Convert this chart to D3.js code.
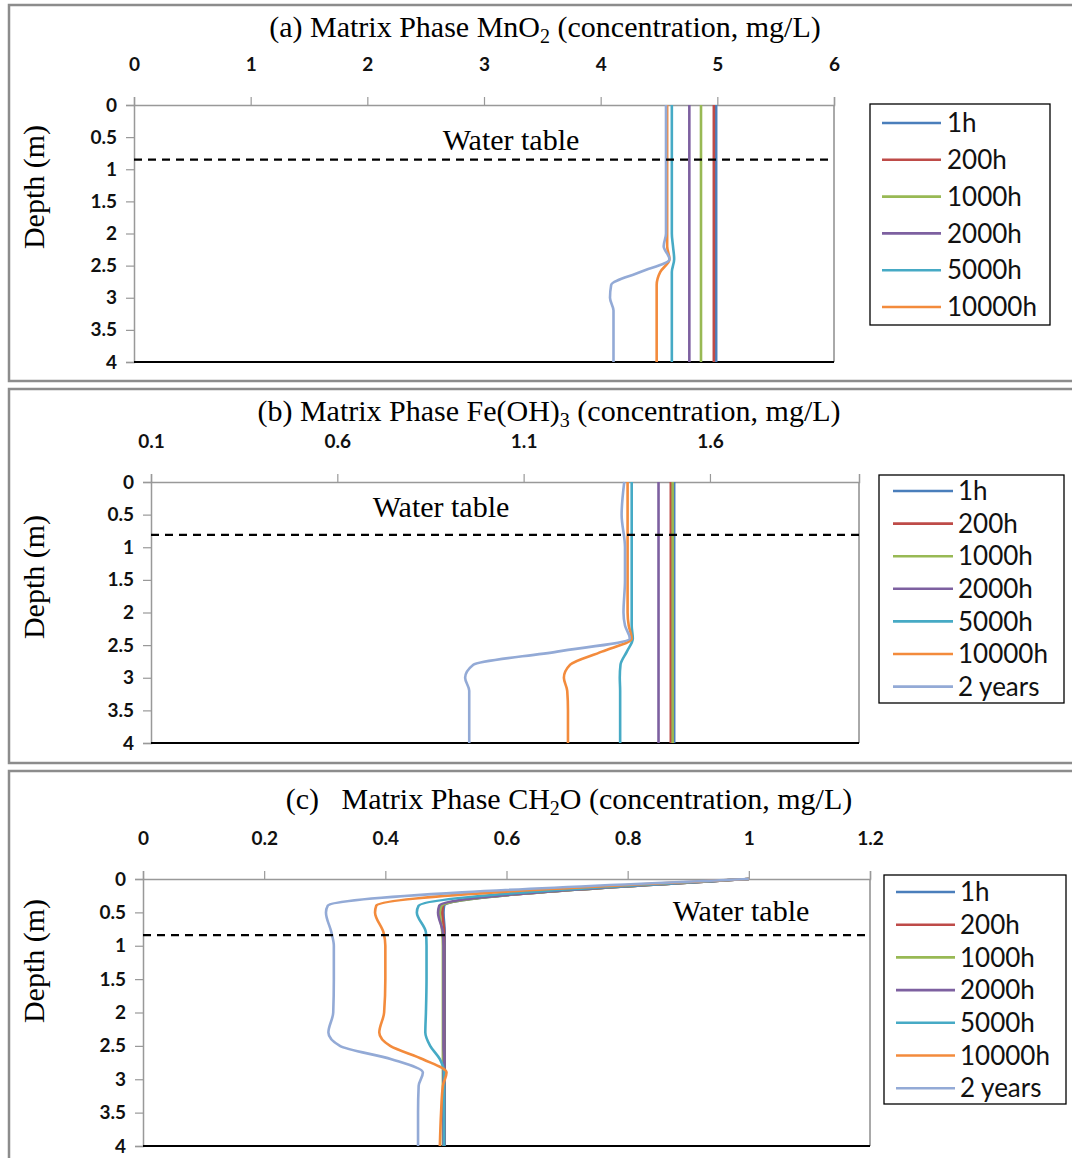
<!DOCTYPE html>
<html>
<head>
<meta charset="utf-8">
<script src="https://cdn.jsdelivr.net/npm/d3@7"></script>
<style>
body { margin: 0; background: #fff; }
text { white-space: pre; }
</style>
</head>
<body>
<svg width="1072" height="1158"></svg>
<script>
// series shared by all three panels
var seriesNames = ["1h", "200h", "1000h", "2000h", "5000h", "10000h", "2 years"];
var seriesColors = ["#4A7EBB", "#BE4B48", "#98B954", "#7D60A0", "#46AAC5", "#F38B3C", "#93AAD6"];

var depthTicks = [0, 0.5, 1, 1.5, 2, 2.5, 3, 3.5, 4];

// (a) MnO2
var depthA = [0, 0.5, 1, 1.5, 2, 2.2, 2.4, 2.6, 2.8, 3, 3.2, 3.5, 4];
var mnO2 = [
  [4.99, 4.99, 4.99, 4.99, 4.99, 4.99, 4.99, 4.99, 4.99, 4.99, 4.99, 4.99, 4.99],
  [4.97, 4.97, 4.97, 4.97, 4.97, 4.97, 4.97, 4.97, 4.97, 4.97, 4.97, 4.97, 4.97],
  [4.86, 4.86, 4.86, 4.86, 4.86, 4.86, 4.86, 4.86, 4.86, 4.86, 4.86, 4.86, 4.86],
  [4.76, 4.76, 4.76, 4.76, 4.76, 4.76, 4.76, 4.76, 4.76, 4.76, 4.76, 4.76, 4.76],
  [4.61, 4.61, 4.61, 4.61, 4.61, 4.62, 4.63, 4.61, 4.61, 4.61, 4.61, 4.61, 4.61],
  [4.57, 4.57, 4.57, 4.57, 4.57, 4.57, 4.59, 4.51, 4.48, 4.48, 4.48, 4.48, 4.48],
  [4.56, 4.56, 4.56, 4.56, 4.56, 4.54, 4.59, 4.34, 4.09, 4.08, 4.11, 4.11, 4.11]
];
var xTicksA = [0, 1, 2, 3, 4, 5, 6];

// (b) Fe(OH)3
var depthB = [0, 0.5, 1, 1.5, 2, 2.2, 2.4, 2.6, 2.8, 3, 3.2, 3.5, 4];
var feOH3 = [
  [1.504, 1.504, 1.504, 1.504, 1.504, 1.504, 1.504, 1.504, 1.504, 1.504, 1.504, 1.504, 1.504],
  [1.495, 1.495, 1.495, 1.495, 1.495, 1.495, 1.495, 1.495, 1.495, 1.495, 1.495, 1.495, 1.495],
  [1.500, 1.500, 1.500, 1.500, 1.500, 1.500, 1.500, 1.500, 1.500, 1.500, 1.500, 1.500, 1.500],
  [1.462, 1.462, 1.462, 1.462, 1.462, 1.462, 1.462, 1.462, 1.462, 1.462, 1.462, 1.462, 1.462],
  [1.390, 1.390, 1.390, 1.390, 1.390, 1.390, 1.393, 1.377, 1.360, 1.358, 1.359, 1.359, 1.359],
  [1.379, 1.379, 1.379, 1.379, 1.379, 1.382, 1.390, 1.310, 1.225, 1.208, 1.217, 1.219, 1.219],
  [1.370, 1.363, 1.372, 1.372, 1.368, 1.372, 1.385, 1.190, 0.965, 0.943, 0.954, 0.954, 0.954]
];
var xTicksB = [0.1, 0.6, 1.1, 1.6];

// (c) CH2O
var depthC = [0, 0.4, 0.5, 0.8, 1, 1.5, 2, 2.3, 2.5, 2.7, 2.9, 3.1, 3.5, 4];
var ch2O = [
  [1.0, 0.497, 0.496, 0.498, 0.498, 0.498, 0.498, 0.498, 0.498, 0.498, 0.498, 0.498, 0.498, 0.498],
  [1.0, 0.495, 0.494, 0.497, 0.497, 0.497, 0.497, 0.497, 0.497, 0.497, 0.497, 0.497, 0.497, 0.497],
  [1.0, 0.493, 0.490, 0.494, 0.495, 0.495, 0.495, 0.495, 0.495, 0.495, 0.495, 0.495, 0.495, 0.495],
  [1.0, 0.489, 0.487, 0.495, 0.496, 0.496, 0.496, 0.496, 0.496, 0.497, 0.496, 0.496, 0.496, 0.496],
  [1.0, 0.455, 0.452, 0.467, 0.468, 0.468, 0.467, 0.466, 0.474, 0.490, 0.497, 0.497, 0.497, 0.497],
  [1.0, 0.385, 0.383, 0.397, 0.400, 0.400, 0.398, 0.390, 0.408, 0.462, 0.501, 0.495, 0.492, 0.490],
  [1.0, 0.305, 0.302, 0.311, 0.315, 0.315, 0.314, 0.306, 0.325, 0.410, 0.462, 0.455, 0.454, 0.454]
];
var xTicksC = [0, 0.2, 0.4, 0.6, 0.8, 1, 1.2];

var waterDepth = [0.85, 0.81, 0.84];

var panels = [
  { title: ["(a) Matrix Phase MnO", "2", " (concentration, mg/L)"], titleX: 545, titleY: 37,
    box: [9, 5, 1090, 381], px: [134, 834], py: [105, 362],
    xDomain: [0, 6], xTicks: xTicksA, fmt: d3.format("d"),
    depths: depthA, values: mnO2, nLegend: 6,
    legend: { x: 870, y: 104, w: 180, h: 221, top: 123, row: 36.8, line: [882, 941], tx: 947 },
    water: waterDepth[0], waterX: 511, waterY: 150, depthY: 187 },
  { title: ["(b) Matrix Phase Fe(OH)", "3", " (concentration, mg/L)"], titleX: 549, titleY: 421,
    box: [9, 389, 1090, 763], px: [151, 859], py: [482, 743],
    xDomain: [0.1, 2.0], xTicks: xTicksB, fmt: d3.format(".1f"),
    depths: depthB, values: feOH3, nLegend: 7,
    legend: { x: 879, y: 475, w: 185, h: 228, top: 491, row: 32.6, line: [893, 953], tx: 958 },
    water: waterDepth[1], waterX: 441, waterY: 517, depthY: 577 },
  { title: ["(c)   Matrix Phase CH", "2", "O (concentration, mg/L)"], titleX: 569, titleY: 809,
    box: [9, 771, 1090, 1190], px: [143, 870], py: [879, 1146],
    xDomain: [0, 1.2], xTicks: xTicksC, fmt: function(d) { return String(+d.toFixed(1)); },
    depths: depthC, values: ch2O, nLegend: 7,
    legend: { x: 884, y: 875, w: 182, h: 229, top: 892, row: 32.7, line: [896, 955], tx: 960 },
    water: waterDepth[2], waterX: 741, waterY: 921, depthY: 961 }
];

var svg = d3.select("svg");
var serif = "'Liberation Serif', 'Times New Roman', serif";
var sans = "Lato, Carlito, Calibri, sans-serif";

panels.forEach(function(p) {
  var g = svg.append("g");

  // panel frame
  g.append("rect")
    .attr("x", p.box[0]).attr("y", p.box[1])
    .attr("width", p.box[2] - p.box[0]).attr("height", p.box[3] - p.box[1])
    .attr("fill", "none").attr("stroke", "#8c8c8c").attr("stroke-width", 2.5);

  var x = d3.scaleLinear().domain(p.xDomain).range(p.px);
  var y = d3.scaleLinear().domain([0, 4]).range(p.py);

  // title with subscript
  var t = g.append("text")
    .attr("x", p.titleX).attr("y", p.titleY)
    .attr("text-anchor", "middle")
    .style("font-family", serif).style("font-size", "30px").attr("fill", "#000");
  t.append("tspan").text(p.title[0]);
  t.append("tspan").attr("dy", 6).style("font-size", "20px").text(p.title[1]);
  t.append("tspan").attr("dy", -6).text(p.title[2]);

  // plot border (right)
  g.append("line")
    .attr("x1", p.px[1]).attr("x2", p.px[1]).attr("y1", p.py[0]).attr("y2", p.py[1])
    .attr("stroke", "#555").attr("stroke-width", 1);

  // top x axis
  var xAxis = g.append("g")
    .attr("transform", "translate(0," + p.py[0] + ")")
    .call(d3.axisTop(x).tickValues(p.xTicks).tickSize(8).tickFormat(p.fmt));
  xAxis.select(".domain").attr("stroke", "#999").attr("stroke-width", 1.5);
  xAxis.selectAll(".tick line").attr("stroke", "#999").attr("stroke-width", 1.2);
  xAxis.selectAll(".tick text")
    .attr("y", -34)
    .style("font-family", sans).style("font-size", "19px").style("font-weight", "bold")
    .attr("fill", "#111");

  // left depth axis
  var yAxis = g.append("g")
    .attr("transform", "translate(" + p.px[0] + ",0)")
    .call(d3.axisLeft(y).tickValues(depthTicks).tickSize(8).tickFormat(d3.format("")));
  yAxis.select(".domain").attr("stroke", "#999").attr("stroke-width", 1.5);
  yAxis.selectAll(".tick line").attr("stroke", "#999").attr("stroke-width", 1.2);
  yAxis.selectAll(".tick text")
    .attr("x", -17)
    .style("font-family", sans).style("font-size", "19px").style("font-weight", "bold")
    .attr("fill", "#111");

  // bottom line of plot area
  g.append("line")
    .attr("x1", p.px[0]).attr("x2", p.px[1]).attr("y1", p.py[1]).attr("y2", p.py[1])
    .attr("stroke", "#000").attr("stroke-width", 2);

  g.append("text")
    .attr("transform", "translate(44," + p.depthY + ") rotate(-90)")
    .attr("text-anchor", "middle")
    .style("font-family", serif).style("font-size", "30px")
    .text("Depth (m)");

  // profile lines
  var line = d3.line()
    .x(function(d) { return x(d[1]); })
    .y(function(d) { return y(d[0]); })
    .curve(d3.curveMonotoneY);

  p.values.forEach(function(vals, i) {
    var pts = p.depths.map(function(dep, k) { return [dep, vals[k]]; });
    g.append("path")
      .datum(pts)
      .attr("d", line)
      .attr("fill", "none")
      .attr("stroke", seriesColors[i])
      .attr("stroke-width", 2.6);
  });

  // water table
  g.append("line")
    .attr("x1", p.px[0]).attr("x2", p.px[1])
    .attr("y1", y(p.water)).attr("y2", y(p.water))
    .attr("stroke", "#000").attr("stroke-width", 2.2)
    .attr("stroke-dasharray", "8,6");
  g.append("text")
    .attr("x", p.waterX).attr("y", p.waterY)
    .attr("text-anchor", "middle")
    .style("font-family", serif).style("font-size", "30px")
    .text("Water table");

  // legend
  var L = p.legend;
  g.append("rect")
    .attr("x", L.x).attr("y", L.y).attr("width", L.w).attr("height", L.h)
    .attr("fill", "#fff").attr("stroke", "#000").attr("stroke-width", 1.3);
  var items = g.selectAll(".leg").data(seriesNames.slice(0, p.nLegend)).enter()
    .append("g").attr("class", "leg")
    .attr("transform", function(d, i) { return "translate(0," + (L.top + i * L.row) + ")"; });
  items.append("line")
    .attr("x1", L.line[0]).attr("x2", L.line[1])
    .attr("stroke", function(d, i) { return seriesColors[i]; })
    .attr("stroke-width", 2.6);
  items.append("text")
    .attr("x", L.tx).attr("dy", "0.35em")
    .style("font-family", sans).style("font-size", "26px")
    .attr("fill", "#111")
    .text(function(d) { return d; });
});
</script>
</body>
</html>
